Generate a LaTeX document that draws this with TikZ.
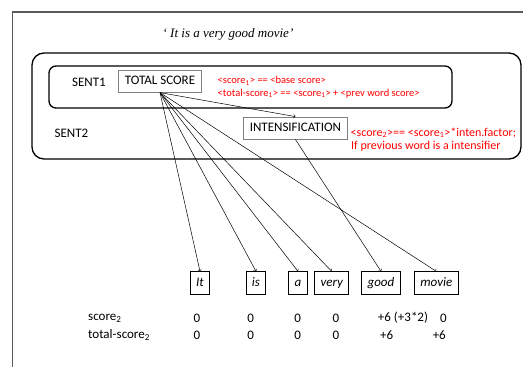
\documentclass[tikz,border=0pt]{standalone}
\usepackage{fontspec}
\setmainfont{Carlito}
\newfontfamily\titlefont{Liberation Serif}

\begin{document}
\begin{tikzpicture}[x=1pt,y=-1pt,
	txt/.style={font=\fontsize{13}{15}\selectfont, inner sep=0pt},
	redtxt/.style={font=\fontsize{10.5}{12}\selectfont, text=red, inner sep=0pt, anchor=west},
	bigred/.style={font=\fontsize{12}{14}\selectfont, text=red, inner sep=0pt, anchor=west},
	scorebox/.style={draw=gray, line width=0.8pt, font=\fontsize{13}{15}\selectfont, text height=9pt, text depth=2pt, inner ysep=5.5pt, inner xsep=6.5pt},
	wordbox/.style={draw, line width=0.8pt, font=\fontsize{13}{15}\selectfont\itshape, text height=9pt, text depth=3pt, inner ysep=5.25pt, inner xsep=5.8pt},
	sentbox/.style={line width=1.3pt}]
	\useasboundingbox (0,0) rectangle (523,367);
	\draw [black!65, line width=1.2pt] (12.5,367) -- (12.5,12) -- (523,12);
	\node [font=\fontsize{13}{15}\selectfont\titlefont\itshape] (title) at (228,34) {‘ It is a very good movie’};
	\draw [sentbox, rounded corners=12pt] (32,53) rectangle (521,159);
	\draw [sentbox, rounded corners=7pt] (49,66) rectangle (452,108);
	\node [txt] (sent1) at (89,82) {SENT1};
	\node [txt] (sent2) at (71.5,133.5) {SENT2};
	\node [scorebox] (ts) at (160,81.2) {TOTAL SCORE};
	\node [scorebox] (int) at (295.4,128) {INTENSIFICATION};
	\node [redtxt] (r1) at (217.5,80.7) {<score\textsubscript{1}> == <base score>};
	\node [redtxt] (r2) at (217.5,93.3) {<total-score\textsubscript{1}> == <score\textsubscript{1}> + <prev word score>};
	\node [bigred] (r3) at (350.5,132.7) {<score\textsubscript{2}>== <score\textsubscript{1}>*inten.factor;};
	\node [bigred] (r4) at (351,146.5) {If previous word is a intensifier};
	\node [wordbox] (wIt) at (200,283) {It};
	\node [wordbox] (wis) at (256,283) {is};
	\node [wordbox] (wa) at (298,283) {a};
	\node [wordbox] (wvery) at (331.7,283) {very};
	\node [wordbox] (wgood) at (381,283) {good};
	\node [wordbox] (wmovie) at (436.3,283) {movie};
	\foreach \w in {wIt,wis,wa,wvery,wmovie,int}
		\draw [->, line width=0.5pt] (ts.south) -- (\w.north);
	\draw [->, line width=0.5pt] (int.south) -- (wgood.north);
	\node [txt, anchor=west] (sc) at (88,318) {score\textsubscript{2}};
	\node [txt, anchor=west] (tsc) at (88,335) {total-score\textsubscript{2}};
	\node [txt] (a1) at (197,318) {0};
	\node [txt] (a2) at (250.7,318) {0};
	\node [txt] (a3) at (297.7,318) {0};
	\node [txt] (a4) at (336,318) {0};
	\node [txt] (a5) at (403,318) {+6 (+3*2)};
	\node [txt] (a6) at (443.3,318) {0};
	\node [txt] (b1) at (197,335) {0};
	\node [txt] (b2) at (250.7,335) {0};
	\node [txt] (b3) at (297.7,335) {0};
	\node [txt] (b4) at (336,335) {0};
	\node [txt] (b5) at (386.7,335) {+6};
	\node [txt] (b6) at (439.3,335) {+6};
\end{tikzpicture}
\end{document}
